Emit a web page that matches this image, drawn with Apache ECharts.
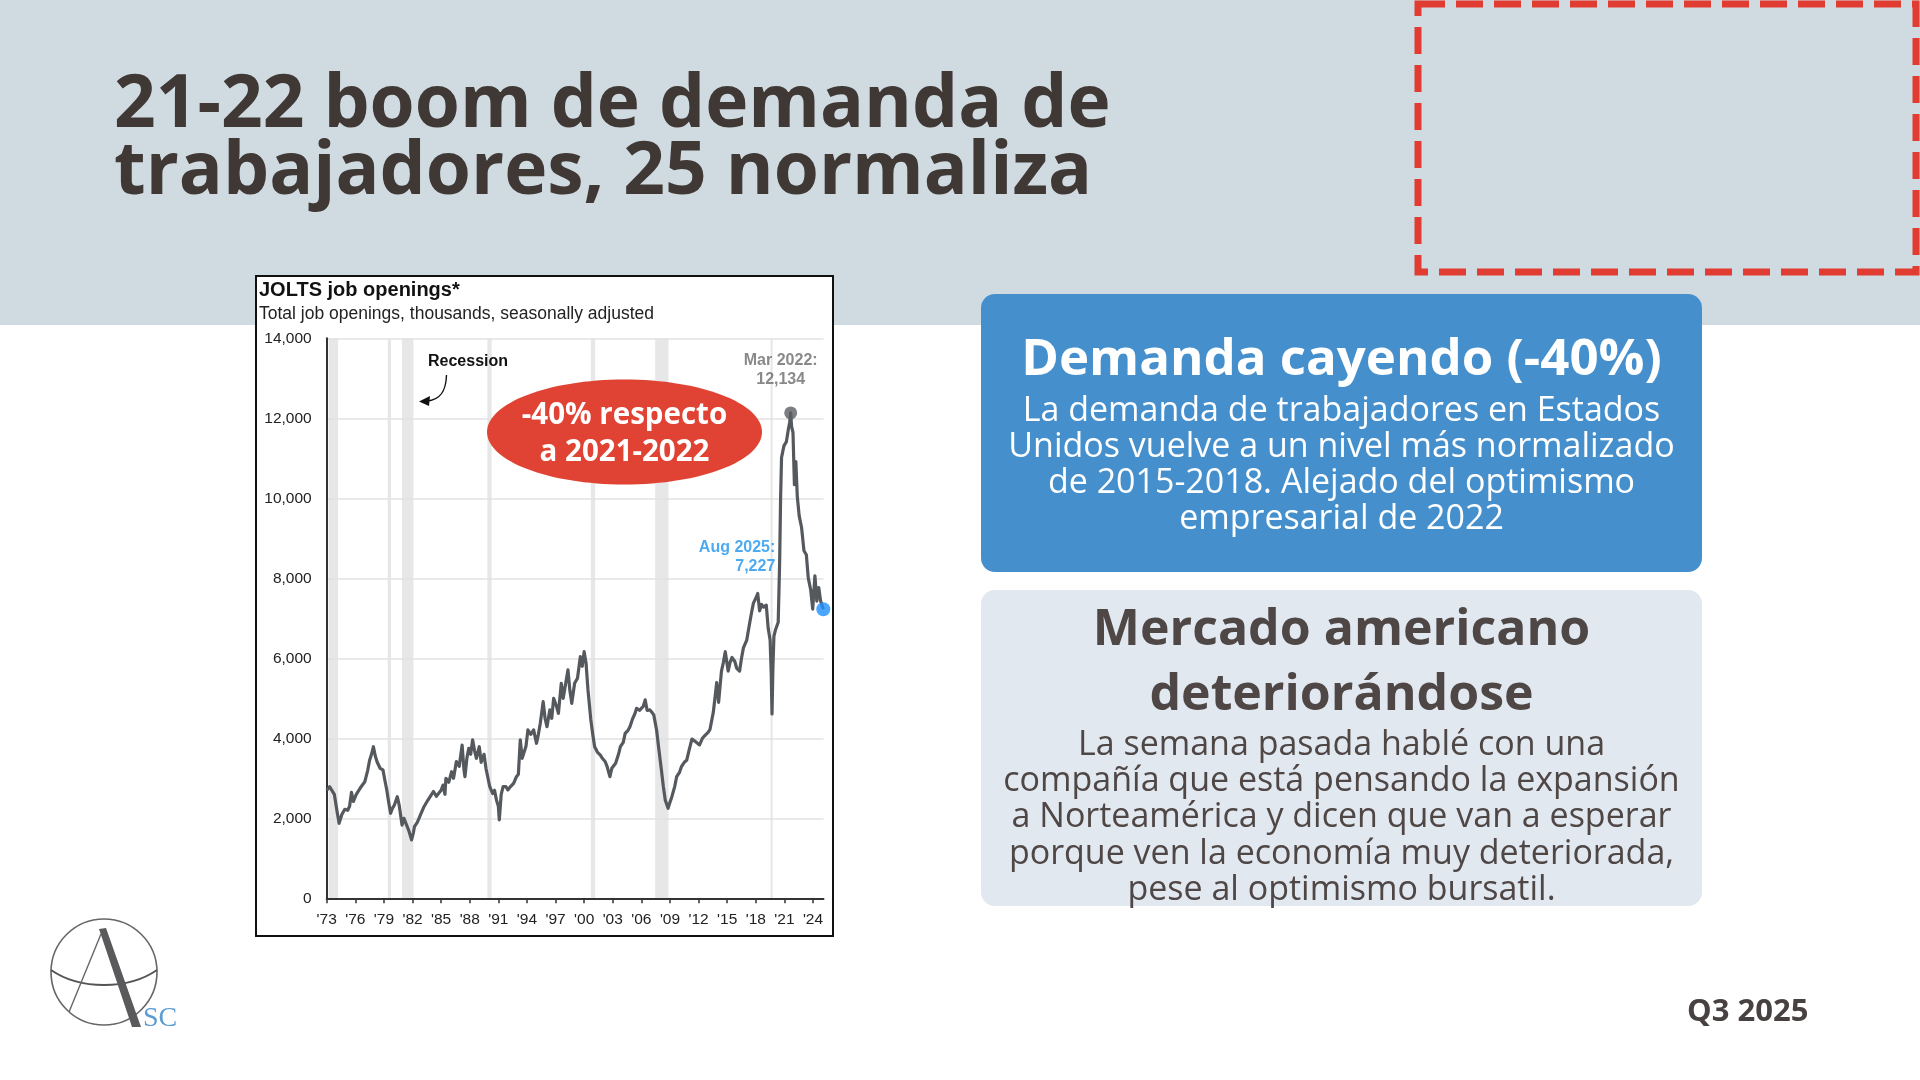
<!DOCTYPE html>
<html>
<head>
<meta charset="utf-8">
<script src="https://cdn.jsdelivr.net/npm/echarts@6/dist/echarts.min.js"></script>
<style>
html,body{margin:0;padding:0;background:#fff;}
#c{width:1920px;height:1080px;}
</style>
</head>
<body>
<div id="c"></div>
<script>
// ---- data (x = position on the chart's year axis, y = thousands of openings) ----
const dataYears = [
1973.0,1973.3,1973.5,1973.8,1974.1,1974.3,1974.6,1974.9,1975.2,1975.4,1975.6,1975.8,1976.1,1976.5,1976.8,1977.0,1977.3,1977.5,1977.7,1977.9,
1978.1,1978.3,1978.6,1978.9,1979.1,1979.3,1979.5,1979.7,1979.9,1980.1,1980.4,1980.6,1980.8,1980.9,1981.1,1981.3,1981.6,1981.9,1982.1,1982.2,
1982.5,1982.9,1983.2,1983.6,1984.0,1984.2,1984.5,1984.7,1985.0,1985.2,1985.4,1985.5,1985.8,1986.1,1986.3,1986.6,1986.9,1987.2,1987.4,1987.5,
1987.7,1987.9,1988.1,1988.3,1988.5,1988.7,1989.0,1989.2,1989.4,1989.5,1989.7,1990.1,1990.4,1990.6,1990.8,1991.0,1991.1,1991.3,1991.5,1991.8,
1992.0,1992.3,1992.6,1992.9,1993.1,1993.3,1993.5,1993.6,1993.9,1994.1,1994.4,1994.7,1995.0,1995.2,1995.4,1995.7,1995.9,1996.1,1996.4,1996.6,
1996.8,1997.1,1997.3,1997.6,1997.8,1998.0,1998.3,1998.5,1998.7,1999.0,1999.3,1999.6,1999.8,2000.0,2000.2,2000.4,2000.7,2000.9,2001.1,2001.4,
2001.7,2001.9,2002.2,2002.4,2002.7,2002.9,2003.1,2003.3,2003.6,2003.8,2004.1,2004.3,2004.6,2004.8,2005.1,2005.3,2005.5,2005.8,2006.0,2006.2,
2006.4,2006.6,2006.9,2007.1,2007.3,2007.6,2007.8,2008.1,2008.3,2008.5,2008.8,2009.0,2009.2,2009.5,2009.7,2010.0,2010.2,2010.5,2010.75,2011.0,
2011.3,2011.6,2011.8,2012.1,2012.4,2012.7,2013.0,2013.2,2013.55,2013.75,2013.9,2014.1,2014.25,2014.4,2014.6,2014.8,2015.1,2015.3,2015.5,2015.8,
2016.0,2016.3,2016.5,2016.7,2017.05,2017.2,2017.4,2017.6,2017.75,2018.0,2018.2,2018.4,2018.6,2018.8,2019.1,2019.3,2019.5,2019.62,2019.7,2019.8,
2019.9,2020.05,2020.2,2020.35,2020.5,2020.6,2020.7,2020.95,2021.2,2021.4,2021.55,2021.66,2021.75,2021.9,2022.05,2022.2,2022.35,2022.55,2022.8,2023.05,
2023.3,2023.5,2023.75,2023.97,2024.2,2024.4,2024.6,2024.8,2025.08
];
const openings = [
2700,2790,2800,2600,2150,1875,2100,2225,2200,2300,2650,2420,2600,2750,2850,2915,3200,3450,3600,3790,
3550,3400,3250,3210,2950,2710,2400,2125,2250,2330,2540,2330,2000,1830,2000,1955,1700,1460,1650,1790,
1900,2125,2290,2450,2600,2670,2550,2500,2700,2830,2600,3000,2900,3165,3000,3420,3300,3830,3200,3040,
3500,3750,3600,3960,3700,3500,3790,3400,3370,3600,3250,2790,2620,2700,2460,2300,1960,2600,2790,2790,
2710,2800,2875,3040,3100,3960,3500,3460,3800,4210,4100,4210,3875,4100,4375,4915,4500,4290,4710,4500,
5000,4800,4625,5375,5000,4960,5710,5200,4875,5375,5500,6040,5800,6165,5875,5210,4460,4100,3790,3650,
3580,3500,3420,3300,3040,3250,3200,3375,3600,3790,3900,4125,4200,4290,4500,4600,4750,4700,4665,4800,
4960,4700,4710,4650,4585,4200,3790,3210,2800,2460,2250,2400,2540,2800,3040,3150,3290,3400,3450,3700,
3980,3930,3915,3835,4000,4080,4150,4225,4660,4700,5390,4900,5300,5680,5900,6165,5680,5900,6020,5920,
5750,5680,6000,6260,6455,6500,6940,7200,7380,7500,7620,7185,7350,7280,7330,6750,6455,5600,4610,5800,
6550,6700,6750,6900,8400,10000,11020,11310,11410,11700,11900,12134,11800,11650,10340,10920,10050,9560,9270,8690,
8590,8010,7720,7230,8060,7430,7770,7430,7227
];
const recessionStart = [1973.2, 1979.4, 1980.9, 1989.85, 2000.7, 2007.45, 2019.55];
const recessionEnd   = [1974.2, 1979.75, 1982.1, 1990.3, 2001.15, 2008.85, 2019.77];
const xTickYears = [1973,1976,1979,1982,1985,1988,1991,1994,1997,2000,2003,2006,2009,2012,2015,2018,2021,2024];
const yTicks = [0,2000,4000,6000,8000,10000,12000,14000];
const peakPoint = [2021.66, 12134];
const peakLabel = ['Mar 2022:', '12,134'];
const lastPoint = [2025.08, 7227];
const lastLabel = ['Aug 2025:', '7,227'];

const chartTitle = 'JOLTS job openings*';
const chartSubtitle = 'Total job openings, thousands, seasonally adjusted';
const slideTitle = ['21-22 boom de demanda de', 'trabajadores, 25 normaliza'];
const blueTitle = 'Demanda cayendo (-40%)';
const blueBody = ['La demanda de trabajadores en Estados', 'Unidos vuelve a un nivel más normalizado', 'de 2015-2018. Alejado del optimismo', 'empresarial de 2022'];
const greyTitle = ['Mercado americano', 'deteriorándose'];
const greyBody = ['La semana pasada hablé con una', 'compañía que está pensando la expansión', 'a Norteamérica y dicen que van a esperar', 'porque ven la economía muy deteriorada,', 'pese al optimismo bursatil.'];
const bubbleText = ['-40% respecto', 'a 2021-2022'];

// ---- build ----
const lineData = dataYears.map((x, i) => [x, openings[i]]);
const recAreas = recessionStart.map((s, i) => [{xAxis: s}, {xAxis: recessionEnd[i]}]);

const SLIDE_FONT = "'Open Sans', sans-serif";
const CHART_FONT = "'Liberation Sans', Arial, sans-serif";
const dark = '#3f3835';

const g = [];
// header band
g.push({type:'rect', z:-10, shape:{x:0,y:0,width:1920,height:325}, style:{fill:'#d0dbe1'}});
// red dashed box
g.push({type:'rect', z:-9, shape:{x:1418,y:4,width:498,height:268}, style:{fill:'none', stroke:'#e03c31', lineWidth:7, lineDash:[27,11]}});
// slide title
slideTitle.forEach((t,i)=>g.push({type:'text', z:5, x:114, y:106+67*i, style:{text:t, font:"bold 73px "+SLIDE_FONT, fill:dark, verticalAlign:'middle', align:'left'}}));
// chart frame
g.push({type:'rect', z:-9, shape:{x:256,y:276,width:577,height:660}, style:{fill:'#ffffff', stroke:'#111', lineWidth:2}});
g.push({type:'text', z:5, x:259, y:290, style:{text:chartTitle, font:"bold 20px "+CHART_FONT, fill:'#111', verticalAlign:'middle'}});
g.push({type:'text', z:5, x:259, y:314, style:{text:chartSubtitle, font:"17.5px "+CHART_FONT, fill:'#222', verticalAlign:'middle'}});
// Recession annotation
g.push({type:'text', z:5, x:428, y:362, style:{text:'Recession', font:"bold 16px "+CHART_FONT, fill:'#111', verticalAlign:'middle'}});
g.push({type:'bezierCurve', z:5, shape:{x1:446.5,y1:375,x2:427,y2:401, cpx1:446,cpy1:392, cpx2:440,cpy2:400}, style:{stroke:'#111', lineWidth:1.4, fill:'none'}});
g.push({type:'polygon', z:5, shape:{points:[[419,401.5],[430,396],[429,406]]}, style:{fill:'#111'}});
// red bubble
g.push({type:'ellipse', z:6, shape:{cx:624.5,cy:432,rx:137.5,ry:52.5}, style:{fill:'#e04333'}});
bubbleText.forEach((t,i)=>g.push({type:'text', z:7, x:624.5, y:416+37*i, style:{text:t, font:"bold 29.5px "+SLIDE_FONT, fill:'#fff', align:'center', verticalAlign:'middle'}}));
// blue box
g.push({type:'rect', z:-9, shape:{x:981,y:294,width:721,height:278,r:14}, style:{fill:'#4590cc'}});
g.push({type:'text', z:5, x:1341.5, y:360, style:{text:blueTitle, font:"bold 51px "+SLIDE_FONT, fill:'#fff', align:'center', verticalAlign:'middle'}});
blueBody.forEach((t,i)=>g.push({type:'text', z:5, x:1341.5, y:411+36*i, style:{text:t, font:"34px "+SLIDE_FONT, fill:'#fff', align:'center', verticalAlign:'middle'}}));
// grey box
g.push({type:'rect', z:-9, shape:{x:981,y:590,width:721,height:316,r:14}, style:{fill:'#e1e8ef'}});
greyTitle.forEach((t,i)=>g.push({type:'text', z:5, x:1341.5, y:631+65*i, style:{text:t, font:"bold 50px "+SLIDE_FONT, fill:'#4f4646', align:'center', verticalAlign:'middle'}}));
greyBody.forEach((t,i)=>g.push({type:'text', z:5, x:1341.5, y:745+36.3*i, style:{text:t, font:"34px "+SLIDE_FONT, fill:'#4f4646', align:'center', verticalAlign:'middle'}}));
// footer
g.push({type:'text', z:5, x:1687, y:1012, style:{text:'Q3 2025', font:"bold 31px "+SLIDE_FONT, fill:'#484141', verticalAlign:'middle'}});
// logo
g.push({type:'circle', z:5, shape:{cx:104,cy:972,r:53}, style:{fill:'none', stroke:'#666', lineWidth:1.6}});
g.push({type:'bezierCurve', z:5, shape:{x1:51,y1:970,x2:157,y2:970,cpx1:80,cpy1:990,cpx2:128,cpy2:990}, style:{stroke:'#555', lineWidth:2, fill:'none'}});
g.push({type:'line', z:5, shape:{x1:101,y1:934,x2:69,y2:1012}, style:{stroke:'#666', lineWidth:1.4}});
g.push({type:'polygon', z:6, shape:{points:[[99,929],[106,928],[141,1027],[132,1027]]}, style:{fill:'#5a5a5c'}});
g.push({type:'text', z:6, x:143, y:1033, style:{text:'SC', font:"28px 'Liberation Serif', serif", fill:'#5b9bd5', verticalAlign:'bottom'}});

const chart = echarts.init(document.getElementById('c'), null, {renderer:'canvas'});
chart.setOption({
  animation:false,
  backgroundColor:'#ffffff',
  graphic:{elements:g},
  grid:{left:326.7, top:338.3, width:496.8, height:560, containLabel:false, z:2},
  xAxis:{
    type:'value', min:1973, max:2025.1, z:2,
    splitLine:{show:false},
    axisLine:{show:true, onZero:false, lineStyle:{color:'#333', width:2}},
    axisTick:{show:true, customValues:xTickYears, length:5, lineStyle:{color:'#333', width:1.5}},
    axisLabel:{customValues:xTickYears, formatter:v=>"'"+String(Math.round(v)).slice(2), fontFamily:CHART_FONT, fontSize:15.5, color:'#222', margin:13}
  },
  yAxis:{
    type:'value', min:0, max:14000, interval:2000, z:2,
    axisLine:{show:true, lineStyle:{color:'#333', width:2}},
    axisTick:{show:false},
    splitLine:{show:true, lineStyle:{color:'#e2e2e2', width:1.6}},
    axisLabel:{formatter:v=>v.toLocaleString('en-US'), fontFamily:CHART_FONT, fontSize:15.5, color:'#222', margin:15}
  },
  series:[
    {type:'line', data:lineData, symbol:'none', z:3, lineStyle:{color:'#55595d', width:3.2, join:'round'},
     markArea:{silent:true, itemStyle:{color:'#e7e7e7'}, data:recAreas}},
    {type:'scatter', z:4, data:[peakPoint], symbolSize:13, itemStyle:{color:'#5b5e61'},
     label:{show:true, formatter:peakLabel.join('\n'), position:[-3.5,-36], align:'center', verticalAlign:'middle', fontFamily:CHART_FONT, fontWeight:'bold', fontSize:16, lineHeight:19, color:'#6b6b6b'}},
    {type:'scatter', z:4, data:[lastPoint], symbolSize:14, itemStyle:{color:'#1e90ff'},
     label:{show:true, formatter:lastLabel.join('\n'), position:[-41,-45], align:'right', verticalAlign:'middle', fontFamily:CHART_FONT, fontWeight:'bold', fontSize:16, lineHeight:19, color:'#1f95ee'}}
  ]
});
</script>
</body>
</html>
